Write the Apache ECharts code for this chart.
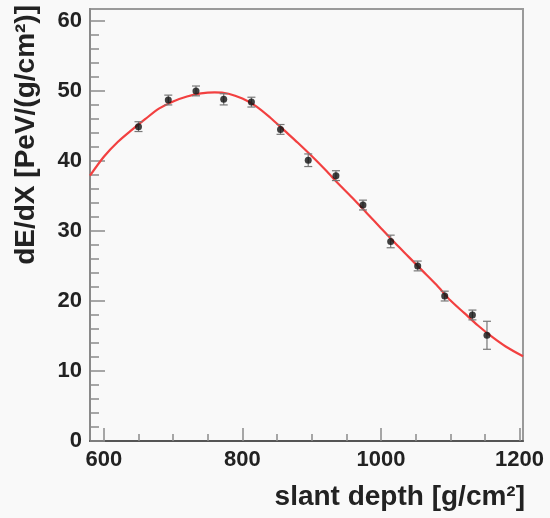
<!DOCTYPE html>
<html style="height: 100%">
  <head>
    <meta charset="utf-8" />
  </head>
  <body style="height: 100%; margin: 0; background: #f9f9f9">
    <div id="container" style="width: 550px; height: 518px"></div>

    <script type="text/javascript" src="https://cdn.jsdelivr.net/npm/echarts@6/dist/echarts.min.js"></script>

    <script type="text/javascript">
      // measured points: slant depth [g/cm2], dE/dX [PeV/(g/cm2)], error
      var depth = [650, 693, 733, 773, 813, 855, 895, 935, 974, 1014, 1053, 1092, 1132, 1153];
      var dedx = [44.9, 48.7, 50.0, 48.8, 48.4, 44.5, 40.1, 37.9, 33.7, 28.5, 25.0, 20.7, 18.0, 15.1];
      var dedxErr = [0.7, 0.7, 0.7, 0.8, 0.7, 0.7, 0.9, 0.7, 0.7, 0.9, 0.7, 0.7, 0.7, 2.0];

      // fitted curve
      var fitDepth = [580, 600, 620, 640, 660, 680, 700, 720, 740, 760, 780, 800, 820, 840, 860, 880,
                      900, 920, 940, 960, 980, 1000, 1020, 1040, 1060, 1080, 1100, 1120, 1140, 1160, 1180, 1205];
      var fitDedx = [37.9, 40.6, 42.7, 44.4, 46.0, 47.5, 48.5, 49.2, 49.65, 49.8, 49.6, 48.9, 47.8, 46.2, 44.4, 42.6,
                     40.7, 38.7, 36.6, 34.6, 32.5, 30.4, 28.3, 26.3, 24.3, 22.3, 20.1, 18.3, 16.5, 14.9, 13.5, 12.1];

      var xMajor = [600, 800, 1000, 1200];
      var xMinor = [650, 700, 750, 850, 900, 950, 1050, 1100, 1150];
      var yMajor = [0, 10, 20, 30, 40, 50, 60];
      var yMinor = [2, 4, 6, 8, 12, 14, 16, 18, 22, 24, 26, 28, 32, 34, 36, 38, 42, 44, 46, 48, 52, 54, 56, 58];

      var dom = document.getElementById("container");
      var myChart = echarts.init(dom);

      var font = "Liberation Sans";
      var points = depth.map(function (d, i) { return [d, dedx[i]]; });
      var bars = depth.map(function (d, i) { return [d, dedx[i] - dedxErr[i], dedx[i] + dedxErr[i]]; });
      var fit = fitDepth.map(function (d, i) { return [d, fitDedx[i]]; });

      var tickStyle = { color: "#8a8a8a", width: 1.5 };
      var plain = function (v) { return String(v); };

      option = {
        backgroundColor: "#f9f9f9",
        animation: false,
        grid: {
          left: 90,
          right: 27,
          top: 9,
          bottom: 77,
          show: true,
          backgroundColor: "#f9f9f9",
          borderColor: "#9a9a9a",
          borderWidth: 2
        },
        xAxis: [
          {
            type: "value",
            min: 580,
            max: 1205,
            position: "bottom",
            name: "slant depth [g/cm²]",
            nameLocation: "end",
            nameGap: 2,
            nameTextStyle: {
              fontFamily: font,
              fontWeight: "bold",
              fontSize: 28,
              color: "#222",
              align: "right",
              verticalAlign: "top",
              padding: [42, 0, 0, 0]
            },
            axisLine: { show: true, lineStyle: { color: "#555", width: 2 } },
            axisTick: { inside: true, length: 13, customValues: xMajor, lineStyle: tickStyle },
            axisLabel: {
              customValues: xMajor,
              formatter: plain,
              margin: 8,
              fontFamily: font,
              fontWeight: "bold",
              fontSize: 22,
              color: "#222"
            },
            splitLine: { show: false }
          },
          {
            type: "value",
            min: 580,
            max: 1205,
            position: "bottom",
            axisLine: { show: false },
            axisTick: { inside: true, length: 7, customValues: xMinor, lineStyle: tickStyle },
            axisLabel: { show: false },
            splitLine: { show: false }
          }
        ],
        yAxis: [
          {
            type: "value",
            min: 0,
            max: 61.7,
            position: "left",
            name: "dE/dX [PeV/(g/cm²)]",
            nameLocation: "end",
            nameRotate: 90,
            nameGap: 4,
            nameTextStyle: {
              fontFamily: font,
              fontWeight: "bold",
              fontSize: 28,
              color: "#222",
              align: "right",
              verticalAlign: "bottom",
              padding: [0, 0, 50, 0]
            },
            axisLine: { show: true, lineStyle: { color: "#8a8a8a", width: 2 } },
            axisTick: { inside: true, length: 15, customValues: yMajor, lineStyle: tickStyle },
            axisLabel: {
              customValues: yMajor,
              formatter: plain,
              margin: 8,
              fontFamily: font,
              fontWeight: "bold",
              fontSize: 22,
              color: "#222"
            },
            splitLine: { show: false }
          },
          {
            type: "value",
            min: 0,
            max: 61.7,
            position: "left",
            axisLine: { show: false },
            axisTick: { inside: true, length: 9, customValues: yMinor, lineStyle: tickStyle },
            axisLabel: { show: false },
            splitLine: { show: false }
          }
        ],
        series: [
          {
            name: "fit",
            type: "line",
            data: fit,
            smooth: 0.3,
            showSymbol: false,
            clip: true,
            lineStyle: { color: "#f24040", width: 2.2 },
            z: 2
          },
          {
            name: "errors",
            type: "custom",
            data: bars,
            renderItem: function (params, api) {
              var x = api.value(0);
              var lo = api.coord([x, api.value(1)]);
              var hi = api.coord([x, api.value(2)]);
              var cap = 4;
              var style = { stroke: "#777", lineWidth: 1.2 };
              return {
                type: "group",
                children: [
                  { type: "line", shape: { x1: lo[0], y1: lo[1], x2: hi[0], y2: hi[1] }, style: style },
                  { type: "line", shape: { x1: lo[0] - cap, y1: lo[1], x2: lo[0] + cap, y2: lo[1] }, style: style },
                  { type: "line", shape: { x1: hi[0] - cap, y1: hi[1], x2: hi[0] + cap, y2: hi[1] }, style: style }
                ]
              };
            },
            z: 3
          },
          {
            name: "data",
            type: "scatter",
            data: points,
            symbol: "circle",
            symbolSize: 7,
            itemStyle: { color: "#111" },
            z: 4
          }
        ]
      };

      option && myChart.setOption(option);
    </script>
  </body>
</html>
